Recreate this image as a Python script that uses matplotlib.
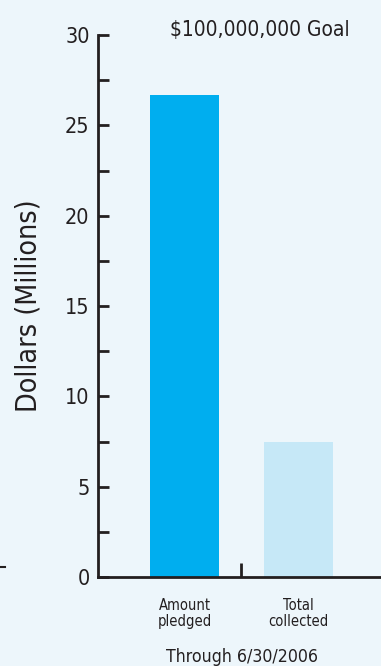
import matplotlib.pyplot as plt
from matplotlib.lines import Line2D

categories = ["Amount\npledged", "Total\ncollected"]
values = [26.7, 7.5]
bar_colors = ["#00aeef", "#c6e8f7"]
yticks = [0, 5, 10, 15, 20, 25, 30]
minor_yticks = [2.5, 7.5, 12.5, 17.5, 22.5, 27.5]

plt.rcParams["font.family"] = ["DejaVu Sans"]
plt.rcParams["font.stretch"] = "condensed"
ink = "#231f20"

fig = plt.figure(figsize=(3.81, 6.66), dpi=100, facecolor="#edf6fb")
ax = fig.add_axes([0.257, 0.1336, 0.743, 0.8138])
ax.set_facecolor("none")

x = range(len(categories))
ax.bar(x, values, width=0.605, color=bar_colors)

ax.set_xlim(-0.759, 1.724)
ax.set_ylim(0, 30)

ax.set_yticks(yticks)
ax.set_yticks(minor_yticks, minor=True)
ax.tick_params(axis="y", which="both", direction="in", length=8, width=2,
               color=ink, labelsize=15.5, labelcolor=ink, pad=6)

ax.set_xticks(list(x), categories)
ax.set_xticks([0.5], minor=True)
ax.tick_params(axis="x", which="major", length=0, pad=15, labelsize=10.5,
               labelcolor=ink)
ax.tick_params(axis="x", which="minor", direction="in", length=10, width=2,
               color=ink)
for lbl in ax.get_xticklabels():
    lbl.set_linespacing(1.1)

for side in ["top", "right"]:
    ax.spines[side].set_visible(False)
for side in ["left", "bottom"]:
    ax.spines[side].set_linewidth(2)
    ax.spines[side].set_color(ink)

ax.set_ylabel("Dollars (Millions)", fontsize=20.5, color=ink, labelpad=16)

fig.text(0.683, 0.955, "$100,000,000 Goal", ha="center", va="center",
         fontsize=15, color=ink)
fig.text(0.635, 0.014, "Through 6/30/2006", ha="center", va="center",
         fontsize=12.7, color=ink)

# small stray rule at the left edge
fig.add_artist(Line2D([0, 0.014], [0.149, 0.149], color=ink, lw=1.5))

fig.savefig("out.png", dpi=100, facecolor=fig.get_facecolor())
